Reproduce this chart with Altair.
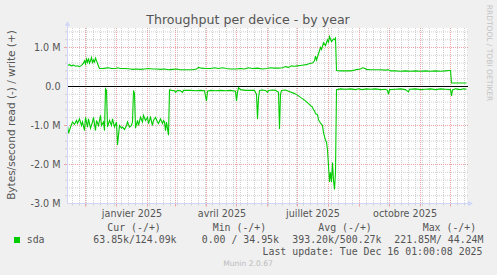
import altair as alt
import pandas as pd

# ---------------- data ----------------
# day index 0 = 2024-11-13 ; values in MB/s (write positive, read negative)
START = "2024-11-13"

write_day = [0, 2, 4, 6, 8, 10, 12, 14, 16, 17, 18, 19, 20, 21, 22, 23, 24, 25, 26, 27,
             28, 29, 30, 31, 32, 35, 38, 41, 44, 48, 50, 53, 58, 63, 65, 69, 73, 77, 81, 85,
             89, 93, 97, 101, 105, 109, 113, 119, 125, 129, 131, 134, 138, 143, 147, 151, 155,
             159, 163, 168, 173, 177, 181, 185, 190, 195, 199, 203, 207, 211, 215, 218, 221,
             224, 227, 230, 233, 236, 239, 242, 245, 247, 248, 249, 251, 253, 254, 256, 258,
             260, 261, 262, 264, 266, 267, 268, 269, 273, 278, 283, 287, 290, 293, 295, 297,
             299, 303, 308, 313, 318, 321, 323, 328, 333, 338, 343, 348, 353, 358, 363, 368,
             373, 378, 382, 383, 384, 399]
write_val = [0.54, 0.56, 0.53, 0.55, 0.52, 0.53, 0.51, 0.54, 0.60, 0.66, 0.58, 0.70, 0.62, 0.72,
             0.60, 0.66, 0.74, 0.62, 0.68, 0.63, 0.73, 0.66, 0.60, 0.52, 0.46, 0.46, 0.47, 0.48,
             0.46, 0.46, 0.48, 0.46, 0.46, 0.45, 0.44, 0.45, 0.44, 0.45, 0.46, 0.45, 0.45, 0.44,
             0.45, 0.43, 0.44, 0.45, 0.43, 0.43, 0.43, 0.45, 0.49, 0.47, 0.46, 0.46, 0.48, 0.46,
             0.48, 0.46, 0.45, 0.45, 0.46, 0.45, 0.48, 0.46, 0.47, 0.45, 0.46, 0.48, 0.47, 0.47,
             0.48, 0.51, 0.49, 0.53, 0.52, 0.53, 0.54, 0.55, 0.56, 0.59, 0.60, 0.66, 0.78, 0.68,
             0.84, 1.00, 0.95, 1.12, 1.05, 1.20, 1.14, 1.28, 1.15, 1.22, 1.20, 1.24, 0.41, 0.40,
             0.40, 0.40, 0.42, 0.44, 0.45, 0.48, 0.47, 0.44, 0.43, 0.43, 0.43, 0.42, 0.43, 0.40,
             0.40, 0.39, 0.40, 0.39, 0.40, 0.39, 0.40, 0.39, 0.40, 0.39, 0.40, 0.41, 0.41, 0.09,
             0.09]

read_day = [0, 1, 3, 5, 7, 9, 10, 12, 14, 15, 17, 18, 20, 21, 23, 25, 26, 28, 29, 31, 33, 34,
            36, 37, 38, 39, 40, 42, 44, 45, 47, 49, 50, 52, 54, 55, 57, 59, 60, 62, 64, 65, 66,
            67, 68, 70, 71, 73, 75, 76, 78, 80, 81, 83, 85, 86, 88, 90, 91, 93, 95, 96, 97, 98,
            99, 101, 102, 104, 107, 108, 110, 113, 115, 116, 123, 128, 133, 137, 138, 139, 140,
            143, 148, 153, 158, 163, 168, 169, 170, 171, 173, 178, 183, 187, 189, 190, 191, 192,
            195, 198, 200, 201, 205, 208, 211, 212, 213, 214, 218, 221, 223, 226, 228, 231, 233,
            236, 238, 241, 243, 245, 246, 247, 248, 250, 251, 253, 255, 256, 258, 259, 260, 261,
            262, 263, 264, 265, 266, 267, 268, 269, 273, 278, 283, 288, 291, 295, 299, 303, 308,
            313, 318, 320, 321, 322, 328, 333, 338, 341, 342, 348, 353, 358, 363, 368, 373, 378,
            383, 384, 385, 388, 393, 396, 399]
read_val = [-1.00, -1.20, -1.04, -0.91, -0.97, -0.87, -0.95, -0.83, -1.00, -0.91, -1.13, -0.79,
            -1.04, -0.83, -1.07, -0.91, -0.79, -1.13, -0.87, -1.00, -0.74, -1.00, -0.91, -1.13,
            -0.06, -0.10, -1.04, -0.87, -1.00, -0.83, -1.04, -0.91, -1.50, -1.00, -1.07, -1.04,
            -1.10, -1.00, -0.91, -1.04, -1.00, -0.91, -0.10, -0.18, -1.07, -0.87, -1.00, -0.79,
            -0.91, -0.74, -0.87, -0.79, -0.95, -0.79, -1.00, -0.87, -0.79, -0.91, -0.95, -0.83,
            -0.95, -0.87, -0.91, -1.13, -0.91, -1.25, -0.09, -0.10, -0.11, -0.15, -0.10, -0.11,
            -0.15, -0.10, -0.10, -0.11, -0.10, -0.11, -0.25, -0.37, -0.12, -0.10, -0.11, -0.10,
            -0.11, -0.10, -0.12, -0.37, -0.15, -0.03, -0.08, -0.10, -0.10, -0.10, -0.20, -0.83,
            -0.30, -0.10, -0.09, -0.10, -0.15, -0.10, -0.09, -0.10, -0.15, -1.09, -0.20, -0.10,
            -0.09, -0.12, -0.14, -0.17, -0.19, -0.24, -0.28, -0.33, -0.37, -0.44, -0.49, -0.53,
            -0.60, -0.62, -0.70, -0.72, -0.85, -0.94, -1.00, -1.18, -1.38, -1.42, -1.62, -2.03,
            -2.45, -2.20, -2.45, -1.95, -2.40, -2.64, -2.20, -0.08, -0.06, -0.07, -0.06, -0.08,
            -0.06, -0.08, -0.06, -0.07, -0.06, -0.08, -0.07, -0.10, -0.20, -0.08, -0.07, -0.06,
            -0.08, -0.14, -0.07, -0.06, -0.08, -0.07, -0.06, -0.08, -0.06, -0.07, -0.08, -0.24,
            -0.09, -0.06, -0.08, -0.06, -0.07]

y_ticks = [-3, -2, -1, 0, 1]
y_minor = [-2.8, -2.6, -2.4, -2.2, -1.8, -1.6, -1.4, -1.2, -0.8, -0.6, -0.4, -0.2,
           0.2, 0.4, 0.6, 0.8, 1.2, 1.4]
y_major = [-2, -1, 1]
month_names = ["janvier", "février", "mars", "avril", "mai", "juin", "juillet", "août",
               "septembre", "octobre", "novembre", "décembre"]

title_text = "Throughput per device - by year"
ytitle_text = "Bytes/second read (-) / write (+)"
side_text = "RRDTOOL / TOBI OETIKER"
leg_headers = ["Cur (-/+)", "Min (-/+)", "Avg (-/+)", "Max (-/+)"]
leg_values = ["63.85k/124.09k", "0.00 / 34.95k", "393.20k/500.27k", "221.85M/ 44.24M"]
leg_name = "sda"
update_text = "Last update: Tue Dec 16 01:00:08 2025"
munin_text = "Munin 2.0.67"

# ---------------- tables ----------------
start = pd.Timestamp(START)
wdf = pd.DataFrame({"date": start + pd.to_timedelta(write_day, unit="D"), "v": write_val})
rdf = pd.DataFrame({"date": start + pd.to_timedelta(read_day, unit="D"), "v": read_val})
weeks = pd.DataFrame({"date": pd.date_range("2024-11-18", "2025-12-15", freq="W-MON")})
months = pd.DataFrame({"date": pd.date_range("2024-12-01", "2025-12-01", freq="MS")})
yminor = pd.DataFrame({"v": y_minor})
ymajor = pd.DataFrame({"v": y_major})
zero = pd.DataFrame({"v": [0]})

W, H = 400, 175.5
FONT = "DejaVu Sans"
MONO = "DejaVu Sans Mono"
TXT = "#555555"
GRID = "#D0D0D0"
MGRID = "#EBA5A5"
AXIS = "#CFD6F8"
GREEN = "#00CC00"

xs = alt.Scale(domain=[alt.DateTime(year=2024, month=11, date=12, hours=12),
                       alt.DateTime(year=2025, month=12, date=17, hours=12)])
ys = alt.Scale(domain=[-3, 1.5], nice=False, zero=False)

month_arr = "[" + ",".join("'%s'" % m for m in month_names) + "]"
xaxis = alt.Axis(values=[alt.DateTime(year=2025, month=1, date=16),
                         alt.DateTime(year=2025, month=4, date=16),
                         alt.DateTime(year=2025, month=7, date=16),
                         alt.DateTime(year=2025, month=10, date=16)],
                 labelExpr=month_arr + "[month(datum.value)] + ' ' + year(datum.value)",
                 domain=False, ticks=False, tickSize=0, grid=False, title=None,
                 labelFont=FONT, labelFontSize=9.6, labelColor=TXT,
                 labelBaseline="alphabetic", labelPadding=13, labelAlign="center",
                 labelOverlap=False, labelFlush=False)
yaxis = alt.Axis(values=y_ticks,
                 labelExpr="datum.value == 0 ? '0.0' : (datum.value < 0 ? '-' : '') + format(abs(datum.value), '.1f') + ' M'",
                 domain=False, ticks=False, tickSize=0, grid=False, title=None,
                 labelFont=FONT, labelFontSize=9.6, labelColor=TXT,
                 labelPadding=7, labelBaseline="middle", labelFlush=False, labelOverlap=False)


def X():
    return alt.X("date:T", scale=xs, axis=xaxis)


def Y():
    return alt.Y("v:Q", scale=ys, axis=yaxis)


minor_v = alt.Chart(weeks).mark_rule(color=GRID, strokeWidth=1, strokeDash=[1, 1]).encode(
    x=X(), y=alt.value(0), y2=alt.value(H))
minor_h = alt.Chart(yminor).mark_rule(color=GRID, strokeWidth=1, strokeDash=[1, 1]).encode(
    y=Y(), x=alt.value(0), x2=alt.value(W + 1))
major_v = alt.Chart(months).mark_rule(color=MGRID, strokeWidth=1, strokeDash=[1, 1]).encode(
    x=X(), y=alt.value(0), y2=alt.value(H))
major_h = alt.Chart(ymajor).mark_rule(color=MGRID, strokeWidth=1, strokeDash=[1, 1]).encode(
    y=Y(), x=alt.value(0), x2=alt.value(W + 1))
tick_minor = alt.Chart(weeks).mark_rule(color=GRID, strokeWidth=1).encode(
    x=X(), y=alt.value(H), y2=alt.value(H + 2))
tick_major = alt.Chart(months).mark_rule(color=MGRID, strokeWidth=1).encode(
    x=X(), y=alt.value(H), y2=alt.value(H + 3))
ytick_minor = alt.Chart(yminor).mark_rule(color=GRID, strokeWidth=1).encode(
    y=Y(), x=alt.value(-2), x2=alt.value(0))
ytick_major = alt.Chart(ymajor).mark_rule(color=MGRID, strokeWidth=1).encode(
    y=Y(), x=alt.value(-3), x2=alt.value(0))
zero_line = alt.Chart(zero).mark_rule(color="#000000", strokeWidth=1).encode(
    y=Y(), x=alt.value(0), x2=alt.value(W + 1))

write_line = alt.Chart(wdf).mark_line(color=GREEN, strokeWidth=1.1).encode(x=X(), y=Y())
read_line = alt.Chart(rdf).mark_line(color=GREEN, strokeWidth=1.1).encode(x=X(), y=Y())

x_axis_line = alt.Chart(zero).mark_rule(color=AXIS, strokeWidth=1).encode(
    x=alt.value(0), x2=alt.value(W + 2), y=alt.value(H))
y_axis_line = alt.Chart(zero).mark_rule(color=AXIS, strokeWidth=1).encode(
    x=alt.value(0.5), y=alt.value(-3), y2=alt.value(H))
arrow_up = alt.Chart(zero).mark_point(shape="triangle-up", filled=True, color=AXIS,
                                      size=30, opacity=1).encode(
    x=alt.value(0.5), y=alt.value(-4.5))
arrow_right = alt.Chart(zero).mark_point(shape="triangle-right", filled=True, color=AXIS,
                                         size=30, opacity=1).encode(
    x=alt.value(W + 3.5), y=alt.value(H))


def label(text, x, y, size, color=TXT, font=FONT, align="left", angle=0, baseline="alphabetic"):
    return alt.Chart(pd.DataFrame({"t": [text]})).mark_text(
        font=font, fontSize=size, color=color, align=align, baseline=baseline,
        angle=angle).encode(text="t:N", x=alt.value(x), y=alt.value(y))


OX, OY = 67, 28  # plot origin in page pixels
texts = [
    label(title_text, 248 - OX, 23.5 - OY, 12.6, align="center"),
    label(ytitle_text, 12 - OX, 115 - OY, 10.5, align="center", angle=270, baseline="middle"),
    label(side_text, 489 - OX, 53 - OY, 7.5, color="#C4C4C4", align="center", angle=90,
          baseline="middle"),
    label(leg_name, 26.7 - OX, 243.3 - OY, 9.9, font=MONO),
    label(update_text, 482.5 - OX, 255 - OY, 9.9, font=MONO, align="right"),
    label(munin_text, 248 - OX, 266 - OY, 7.6, color="#BBBBBB", align="center"),
]
for t, x in zip(leg_headers, [107.3, 212.7, 318.3, 422.7]):
    texts.append(label(t, x - OX, 231 - OY, 9.9, font=MONO))
for t, x in zip(leg_values, [93.3, 201.7, 292.3, 394.3]):
    texts.append(label(t, x - OX, 243.3 - OY, 9.9, font=MONO))

swatch = alt.Chart(zero).mark_rect(color=GREEN).encode(
    x=alt.value(14 - OX), x2=alt.value(20 - OX), y=alt.value(237 - OY), y2=alt.value(243 - OY))

chart = alt.layer(
    minor_v, minor_h, major_v, major_h, tick_minor, tick_major, ytick_minor, ytick_major,
    zero_line, read_line, write_line, x_axis_line, y_axis_line, arrow_up, arrow_right,
    swatch, *texts
).properties(
    width=W, height=H,
    background="#F0F0F0",
    padding={"left": OX, "top": OY, "right": 497 - OX - W, "bottom": 275 - OY - H},
    autosize=alt.AutoSizeParams(type="none"),
).configure_view(stroke=None, fill="#FFFFFF")

chart.save("out.html", embed_options={"renderer": "svg", "actions": False})
